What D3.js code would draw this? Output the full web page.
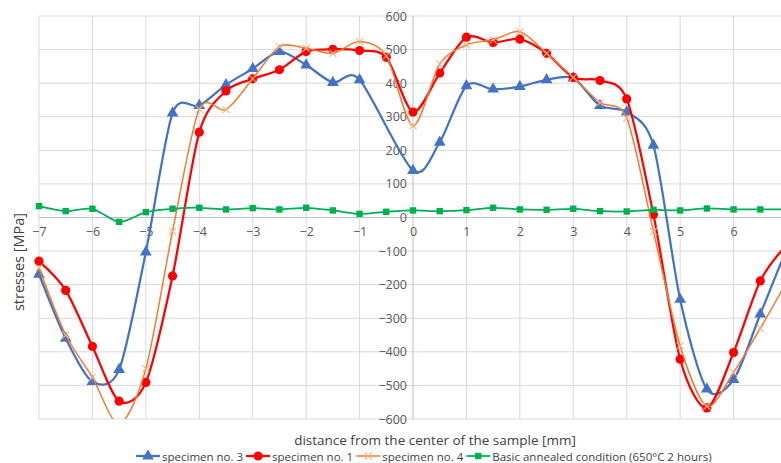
<!DOCTYPE html>
<html>
<head>
<meta charset="utf-8">
<script src="https://cdn.jsdelivr.net/npm/d3@7"></script>
<style>
  html, body { margin: 0; padding: 0; background: #fff; }
  svg { display: block; font-family: "Open Sans", "Liberation Sans", sans-serif; }
</style>
</head>
<body>
<svg id="chart" width="781" height="463"></svg>
<script>
// Measurement positions [mm], every 0.5 mm across the sample
const positions = [-7, -6.5, -6, -5.5, -5, -4.5, -4, -3.5, -3, -2.5, -2, -1.5, -1, -0.5,
  0, 0.5, 1, 1.5, 2, 2.5, 3, 3.5, 4, 4.5, 5, 5.5, 6, 6.5, 7];

// Residual stresses [MPa]; null = not measured at that position
const specimen3 = [-169, -360, -489, -453, -103, 311, 333, 395, 443, 494, 454, 402, 410, null,
  140, 224, 392, 382, 390, 410, 415, 333, 314, 215, -244, -511, -483, -288, -90];
const specimen1 = [-130, -217, -384, -547, -491, -174, 254, 377, 413, 440, 494, 501, 497, 477,
  314, 430, 537, 521, 531, 489, 417, 408, 353, 9, -422, -567, -402, -189, -80];
const specimen4 = [-150, -350, -476, -615, -450, -41, 323, 321, 413, 509, 504, 489, 524, 481,
  273, 457, 514, 529, 553, 489, 417, 342, 296, -41, -382, -562, -461, -330, -190];
const annealed = [34, 19, 26, -13, 16, 26, 29, 24, 28, 24, 29, 21, 11, 17,
  21, 19, 22, 29, 24, 23, 26, 19, 18, 23, 21, 27, 24, 24, 24];

const xGrid = [-7, -6, -5, -4, -3, -2, -1, 0, 1, 2, 3, 4, 5, 6, 7];
const xTickLabels = [-7, -6, -5, -4, -3, -2, -1, 0, 1, 2, 3, 4, 5, 6];
const yTicks = [-600, -500, -400, -300, -200, -100, 0, 100, 200, 300, 400, 500, 600];

const seriesNames = ["specimen no. 3", "specimen no. 1", "specimen no. 4",
  "Basic annealed condition (650°C 2 hours)"];

const series = [
  { name: seriesNames[0], values: specimen3, color: "#4472C4", width: 2.25, marker: "triangle" },
  { name: seriesNames[1], values: specimen1, color: "#FF0000", width: 2.25, marker: "circle" },
  { name: seriesNames[2], values: specimen4, color: "#ED7D31", width: 1.5, marker: "cross" },
  { name: seriesNames[3], values: annealed, color: "#00B050", width: 1.75, marker: "square" }
];

const svg = d3.select("#chart");
const plot = { left: 39, top: 16, right: 787, bottom: 419 };

const x = d3.scaleLinear().domain([-7, 7]).range([plot.left, plot.right]);
const y = d3.scaleLinear().domain([-600, 600]).range([plot.bottom, plot.top]);

const gridColor = "#D9D9D9";
const textColor = "#595959";
const fontFamily = "'Open Sans', 'Liberation Sans', sans-serif";

// Grid
const grid = svg.append("g");
grid.selectAll("line.h").data(yTicks).join("line")
  .attr("x1", plot.left).attr("x2", plot.right)
  .attr("y1", d => y(d)).attr("y2", d => y(d))
  .attr("stroke", d => d === 0 ? "#BFBFBF" : gridColor).attr("stroke-width", 1);
grid.selectAll("line.v").data(xGrid).join("line")
  .attr("y1", plot.top).attr("y2", plot.bottom)
  .attr("x1", d => x(d)).attr("x2", d => x(d))
  .attr("stroke", d => d === 0 ? "#BFBFBF" : gridColor).attr("stroke-width", 1);

// Axis tick labels, crossing at the origin
const xAxis = d3.axisBottom(x).tickValues(xTickLabels).tickSize(0).tickPadding(10).tickFormat(d3.format("d"));
const gx = svg.append("g").attr("transform", `translate(0,${y(0)})`).call(xAxis);
gx.select(".domain").remove();
gx.selectAll("text").attr("fill", textColor).attr("font-size", 12.5).attr("font-family", fontFamily);

const yAxis = d3.axisLeft(y).tickValues(yTicks).tickSize(0).tickPadding(6).tickFormat(d3.format("d"));
const gy = svg.append("g").attr("transform", `translate(${x(0)},0)`).call(yAxis);
gy.select(".domain").remove();
gy.selectAll("text").attr("fill", textColor).attr("font-size", 12.5).attr("font-family", fontFamily);

// Clip the series to the plot's value range
svg.append("defs").append("clipPath").attr("id", "plotClip")
  .append("rect").attr("x", 0).attr("y", plot.top - 6)
  .attr("width", 800).attr("height", plot.bottom - plot.top + 6);

const marks = svg.append("g").attr("clip-path", "url(#plotClip)");

const line = d3.line()
  .x(d => x(d[0]))
  .y(d => y(d[1]))
  .curve(d3.curveCardinal.tension(0.15));

function drawMarker(g, type, color, cx, cy) {
  if (type === "triangle") {
    g.append("path").attr("d", d3.symbol(d3.symbolTriangle, 60)())
      .attr("transform", `translate(${cx},${cy})`).attr("fill", color);
  } else if (type === "circle") {
    g.append("circle").attr("cx", cx).attr("cy", cy).attr("r", 4.6).attr("fill", color);
  } else if (type === "cross") {
    g.append("path").attr("d", `M${cx - 3.5},${cy - 3.5}L${cx + 3.5},${cy + 3.5}M${cx - 3.5},${cy + 3.5}L${cx + 3.5},${cy - 3.5}`)
      .attr("stroke", "#F4B183").attr("stroke-width", 1.1).attr("fill", "none");
  } else if (type === "square") {
    g.append("rect").attr("x", cx - 3.2).attr("y", cy - 3.2).attr("width", 6.4).attr("height", 6.4)
      .attr("fill", color);
  }
}

series.forEach(s => {
  const pts = positions.map((p, i) => [p, s.values[i]]).filter(d => d[1] !== null);
  const g = marks.append("g");
  g.append("path").datum(pts).attr("d", line)
    .attr("fill", "none").attr("stroke", s.color).attr("stroke-width", s.width)
    .attr("stroke-linejoin", "round");
  pts.forEach(d => drawMarker(g, s.marker, s.color, x(d[0]), y(d[1])));
});

// Axis titles
svg.append("text").attr("x", 435).attr("y", 445).attr("text-anchor", "middle")
  .attr("font-size", 13.5).attr("fill", "#404040")
  .text("distance from the center of the sample [mm]");
svg.append("text").attr("transform", "translate(24,262) rotate(-90)").attr("text-anchor", "middle")
  .attr("font-size", 14.5).attr("fill", "#404040")
  .text("stresses [MPa]");

// Legend
const legend = svg.append("g").attr("transform", "translate(0,456)");
let lx = 136;
series.forEach(s => {
  const item = legend.append("g");
  item.append("line").attr("x1", lx).attr("x2", lx + 24).attr("y1", 0).attr("y2", 0)
    .attr("stroke", s.color).attr("stroke-width", s.width);
  drawMarker(item, s.marker, s.color, lx + 12, 0);
  const t = item.append("text").attr("x", lx + 26).attr("y", 4.5)
    .attr("font-size", 11.5).attr("fill", "#404040").text(s.name);
  lx += 26 + t.node().getComputedTextLength() + 3;
});
</script>
</body>
</html>
